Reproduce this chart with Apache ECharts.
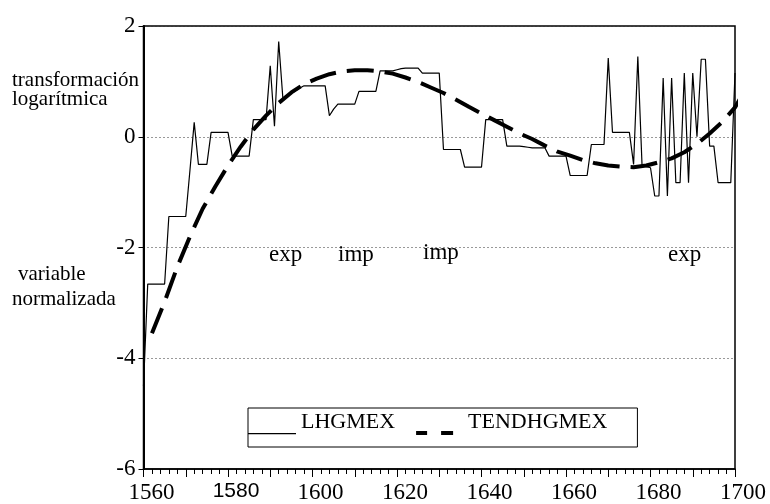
<!DOCTYPE html>
<html>
<head>
<meta charset="utf-8">
<script src="https://cdn.jsdelivr.net/npm/echarts@6/dist/echarts.min.js"></script>
<style>
  html, body { margin: 0; padding: 0; background: #fff; }
  #main { width: 770px; height: 504px; }
</style>
</head>
<body>
<div id="main"></div>
<script>
// LHGMEX, one value per year from 1560 to 1700
const firstYear = 1560;
const lhgmex = [
  -4.5, -2.66, -2.66, -2.66, -2.66, -2.66, -1.44, -1.44, -1.44, -1.44,   // 1560-1569
  -1.44, -0.6, 0.26, -0.5, -0.5, -0.5, 0.08, 0.08, 0.08, 0.08,           // 1570-1579
  0.08, -0.35, -0.35, -0.35, -0.35, -0.35, 0.31, 0.31, 0.31, 0.31,       // 1580-1589
  1.28, 0.19, 1.72, 0.68, 0.73, 0.78, 0.83, 0.88, 0.92, 0.92,            // 1590-1599
  0.92, 0.92, 0.92, 0.92, 0.38, 0.5, 0.59, 0.59, 0.59, 0.59,             // 1600-1609
  0.59, 0.82, 0.82, 0.82, 0.82, 0.82, 1.19, 1.19, 1.19, 1.19,            // 1610-1619
  1.21, 1.23, 1.24, 1.24, 1.24, 1.24, 1.15, 1.15, 1.15, 1.15,            // 1620-1629
  1.15, -0.23, -0.23, -0.23, -0.23, -0.23, -0.55, -0.55, -0.55, -0.55,   // 1630-1639
  -0.55, 0.31, 0.31, 0.31, 0.31, 0.31, -0.17, -0.17, -0.17, -0.17,       // 1640-1649
  -0.18, -0.19, -0.2, -0.2, -0.2, -0.2, -0.35, -0.35, -0.35, -0.35,      // 1650-1659
  -0.35, -0.7, -0.7, -0.7, -0.7, -0.7, -0.14, -0.14, -0.14, -0.14,       // 1660-1669
  1.42, 0.08, 0.08, 0.08, 0.08, 0.08, -0.5, 1.45, -0.52, -0.54,          // 1670-1679
  -0.56, -1.07, -1.07, 1.06, -1.07, 1.06, -0.83, -0.83, 1.15, -0.83,     // 1680-1689
  1.15, 0.0, 1.4, 1.4, -0.17, -0.17, -0.83, -0.83, -0.83, -0.83,         // 1690-1699
  1.15                                                                   // 1700
];

// TENDHGMEX
const trendYears = [
  1562, 1565, 1568, 1571, 1574, 1577, 1580, 1583, 1586, 1589, 1592, 1595,
  1598, 1601, 1604, 1607, 1610, 1613, 1616, 1619, 1622, 1625, 1628, 1631,
  1634, 1637, 1640, 1643, 1646, 1649, 1652, 1655, 1658, 1661, 1664, 1667,
  1670, 1673, 1676, 1679, 1682, 1685, 1688, 1691, 1694, 1697, 1700, 1702
];
const trendValues = [
  -3.55, -2.98, -2.35, -1.8, -1.3, -0.9, -0.52, -0.18, 0.13, 0.38, 0.61, 0.8,
  0.95, 1.05, 1.13, 1.18, 1.2, 1.2, 1.18, 1.14, 1.07, 0.99, 0.89, 0.79,
  0.67, 0.54, 0.42, 0.3, 0.18, 0.06, -0.04, -0.16, -0.27, -0.34, -0.42, -0.48,
  -0.52, -0.54, -0.55, -0.52, -0.46, -0.39, -0.28, -0.13, 0.06, 0.27, 0.53, 0.79
];

const xLabels = [1560, 1580, 1600, 1620, 1640, 1660, 1680, 1700];
const seriesNames = ["LHGMEX", "TENDHGMEX"];
const sideLabels = ["transformación", "logarítmica", "variable", "normalizada"];
const notes = ["exp", "imp", "imp", "exp"];

const SERIF = "'Liberation Serif', 'Times New Roman', serif";

const chart = echarts.init(document.getElementById("main"));

const textAt = (text, x, y, size) => ({
  type: "text",
  x: x,
  y: y,
  style: {
    text: text,
    fill: "#000",
    fontFamily: SERIF,
    fontSize: size,
    verticalAlign: "middle",
  },
});

// legend icons, 48 x 28 boxes (tiny corner points keep the box size)
const corners = "M0 0L0.01 0L0 0.01Z M48 28L47.99 28L48 27.99Z ";
const solidIcon = "path://" + corners + "M0 25L48 25L48 26.2L0 26.2Z";
const dashIcon = "path://" + corners + "M1 23L12 23L12 27L1 27Z M26 23L38 23L38 27L26 27Z";

const option = {
  animation: false,
  backgroundColor: "#fff",
  grid: {
    left: 143.5,
    right: 35,
    top: 26,
    bottom: 33.5,
    show: true,
    borderColor: "#000",
    borderWidth: 1.5,
  },
  legend: {
    left: 248,
    top: 408,
    orient: "horizontal",
    padding: [0, 30, 11, 0],
    borderColor: "#000",
    borderWidth: 1,
    itemWidth: 48,
    itemHeight: 28,
    itemGap: 20,
    selectedMode: false,
    itemStyle: { borderWidth: 0 },
    textStyle: { color: "#000", fontFamily: SERIF, fontSize: 22 },
    data: [
      { name: seriesNames[0], icon: solidIcon },
      { name: seriesNames[1], icon: dashIcon },
    ],
  },
  xAxis: {
    type: "value",
    min: 1560,
    max: 1700,
    interval: 10,
    axisLine: { onZero: false, lineStyle: { color: "#000", width: 1.5 } },
    axisTick: { inside: false, length: 8, lineStyle: { color: "#000", width: 1 } },
    minorTick: { show: true, splitNumber: 5, length: 5, lineStyle: { color: "#000", width: 1 } },
    splitLine: { show: false },
    axisLabel: {
      margin: 12,
      color: "#000",
      fontFamily: SERIF,
      fontSize: 23,
      padding: [0, 0, 0, 16],
      formatter: (v) => {
        if (!xLabels.includes(v)) return "";
        return v === 1580 ? "{s|" + v + "}" : String(v);
      },
      rich: {
        s: { fontFamily: "'Liberation Sans', Arial, sans-serif", fontSize: 21, color: "#000" },
      },
    },
  },
  yAxis: {
    type: "value",
    min: -6,
    max: 2,
    interval: 2,
    axisLine: { show: true, onZero: false, lineStyle: { color: "#000", width: 2 } },
    axisTick: { show: true, inside: false, length: 5, lineStyle: { color: "#000", width: 1 } },
    splitLine: { show: true, lineStyle: { color: "#333", width: 1, type: [1, 3] } },
    axisLabel: {
      margin: 8,
      color: "#000",
      fontFamily: SERIF,
      fontSize: 23,
      padding: [0, 0, 9, 0],
    },
  },
  series: [
    {
      name: seriesNames[0],
      type: "line",
      symbol: "none",
      data: lhgmex.map((v, i) => [firstYear + i, v]),
      lineStyle: { color: "#000", width: 1.2 },
      itemStyle: { color: "#000" },
      z: 2,
    },
    {
      name: seriesNames[1],
      type: "line",
      symbol: "none",
      clip: false,
      data: trendYears.map((y, i) => [y, trendValues[i]]),
      lineStyle: { color: "#000", width: 4, type: [27, 11], cap: "butt" },
      itemStyle: { color: "#000" },
      z: 3,
    },
  ],
  graphic: [
    textAt(sideLabels[0], 12, 80, 21),
    textAt(sideLabels[1], 12, 99, 21),
    textAt(sideLabels[2], 18, 274, 21),
    textAt(sideLabels[3], 12, 299, 21),
    textAt(notes[0], 269, 255, 23),
    textAt(notes[1], 338, 255, 23),
    textAt(notes[2], 423, 253, 23),
    textAt(notes[3], 668, 255, 23),
  ],
};

chart.setOption(option);
</script>
</body>
</html>
